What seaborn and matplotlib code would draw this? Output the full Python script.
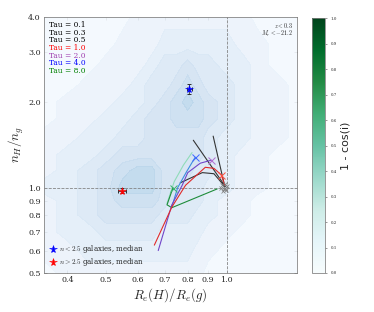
import numpy as np
import matplotlib
matplotlib.use("Agg")
import matplotlib.pyplot as plt
import matplotlib.ticker as mticker
import seaborn as sns

# background galaxy density (coarse grid)
grid_x = [0.35, 0.4, 0.45, 0.5, 0.55, 0.6, 0.65, 0.7, 0.75, 0.8, 0.85, 0.9, 1.0, 1.1, 1.2, 1.35, 1.5]
grid_y = [0.5, 0.6, 0.7, 0.8, 0.9, 1.0, 1.15, 1.3, 1.5, 1.75, 2.0, 2.3, 2.7, 3.2, 4.0]
density = [
    [0, 1, 1, 1, 1, 1, 1, 1, 1, 1, 1, 0, 0, 0, 0, 0, 0],
    [1, 1, 2, 2, 2, 2, 2, 2, 2, 2, 1, 1, 0, 0, 0, 0, 0],
    [1, 2, 2, 3, 3, 3, 3, 2, 2, 2, 2, 1, 1, 0, 0, 0, 0],
    [1, 2, 3, 4, 4, 4, 4, 3, 3, 3, 2, 2, 1, 1, 0, 0, 0],
    [1, 2, 3, 4, 5, 5, 5, 4, 3, 3, 3, 2, 1, 1, 0, 0, 0],
    [2, 2, 3, 4, 6, 6, 6, 4, 4, 3, 3, 2, 2, 1, 1, 0, 0],
    [1, 2, 3, 4, 5, 6, 6, 4, 4, 4, 3, 3, 2, 1, 1, 0, 0],
    [1, 2, 2, 3, 4, 4, 4, 4, 4, 4, 4, 3, 2, 1, 1, 0, 0],
    [1, 1, 2, 2, 3, 3, 4, 4, 4, 4, 4, 3, 2, 2, 1, 1, 0],
    [0, 1, 1, 2, 2, 3, 4, 4, 5, 5, 5, 4, 3, 2, 1, 1, 0],
    [0, 1, 1, 1, 2, 2, 3, 4, 5, 6, 5, 4, 3, 2, 1, 1, 0],
    [0, 0, 1, 1, 1, 2, 3, 3, 4, 5, 4, 3, 3, 2, 1, 1, 0],
    [0, 0, 0, 1, 1, 1, 2, 3, 3, 4, 3, 3, 2, 2, 1, 0, 0],
    [0, 0, 0, 0, 1, 1, 1, 2, 2, 2, 2, 2, 2, 1, 1, 0, 0],
    [0, 0, 0, 0, 0, 1, 1, 1, 1, 1, 1, 1, 1, 1, 0, 0, 0],
]

# model tracks
black1_x = [0.826, 0.993]
black1_y = [1.47, 1.01]
black2_x = [0.926, 0.99]
black2_y = [1.52, 1.01]
black3_x = [0.766, 0.87, 0.93, 0.99]
black3_y = [1.04, 1.13, 1.12, 1.01]
red_x = [0.66, 0.73, 0.79, 0.885, 0.93, 0.97, 0.99]
red_y = [0.627, 0.854, 1.02, 1.18, 1.17, 1.11, 1.02]
purple_x = [0.675, 0.73, 0.775, 0.80, 0.86, 0.916]
purple_y = [0.60, 0.87, 1.02, 1.13, 1.22, 1.25]
blue_x = [0.73, 0.755, 0.795, 0.835]
blue_y = [0.857, 1.0, 1.14, 1.28]
pale_x = [0.71, 0.74, 0.78, 0.82]
pale_y = [0.88, 1.05, 1.2, 1.33]
green_x = [0.735, 0.71, 0.73, 0.948]
green_y = [1.0, 0.87, 0.85, 0.99]

# end points of tracks
cross_x = [0.735, 0.835, 0.916, 0.97]
cross_y = [1.0, 1.28, 1.25, 1.11]
cross_colors = ["#3cb371", "#4169ff", "#b070d0", "#ff5040"]
cluster_x = [0.975, 0.985, 0.99, 0.995, 0.98, 1.0, 0.97, 0.99]
cluster_y = [1.02, 0.99, 1.0, 0.98, 0.97, 1.01, 1.0, 1.03]

# medians
med_x = [0.807, 0.548]
med_y = [2.23, 0.974]
med_xerr = [0.012, 0.012]
med_yerr = [0.09, 0.02]
med_colors = ["blue", "red"]
med_labels = [r"$n<2.5$ galaxies, median", r"$n>2.5$ galaxies, median"]

tau_labels = ["Tau = 0.1", "Tau = 0.3", "Tau = 0.5", "Tau = 1.0", "Tau = 2.0", "Tau = 4.0", "Tau = 8.0"]
tau_colors = ["black", "black", "black", "red", "#a040b0", "blue", "green"]

sns.set_style("ticks")
plt.rcParams["font.family"] = ["DejaVu Serif"]
plt.rcParams["mathtext.fontset"] = "cm"

fig = plt.figure(figsize=(374 / 72, 312 / 72), dpi=72)
ax = fig.add_axes([0.118, 0.125, 0.676, 0.8205])
cax = fig.add_axes([0.834, 0.125, 0.035, 0.817])

ax.set_xscale("log")
ax.set_yscale("log")

gx, gy = np.meshgrid(grid_x, grid_y)
ax.contourf(gx, gy, np.array(density), levels=np.arange(-0.5, 7.0, 1.0),
            cmap="Blues", vmin=-0.5, vmax=22, alpha=0.85)

ax.axhline(1.0, color="gray", ls="--", lw=0.8)
ax.axvline(1.0, color="gray", ls="--", lw=0.8)

tracks = [
    (pale_x, pale_y, "#8fdcb8"),
    (black1_x, black1_y, "#333333"),
    (black2_x, black2_y, "#333333"),
    (black3_x, black3_y, "#333333"),
    (green_x, green_y, "#1e8c3a"),
    (blue_x, blue_y, "#3c8ce0"),
    (purple_x, purple_y, "#7044c8"),
    (red_x, red_y, "#e02a2a"),
]
for tx, ty, c in tracks:
    sns.lineplot(x=tx, y=ty, sort=False, estimator=None, color=c, lw=1.1, ax=ax)

for cx, cy, c in zip(cross_x, cross_y, cross_colors):
    ax.plot(cx, cy, marker="x", color=c, ms=7, mew=1.0, ls="none")
ax.plot(cluster_x, cluster_y, marker="x", color="gray", ms=4, mew=0.7, ls="none")

for mx, my, xe, ye, c, lab in zip(med_x, med_y, med_xerr, med_yerr, med_colors, med_labels):
    ax.errorbar(mx, my, xerr=xe, yerr=ye, color="#333333", lw=0.8, capsize=2, ls="none")
    ax.plot(mx, my, marker="*", color=c, ms=8, mec=c, mew=0.5, ls="none", label=lab)

leg = ax.legend(loc="lower left", frameon=False, fontsize=7, handletextpad=0.2,
                borderaxespad=0.3, labelspacing=0.1, handlelength=1.2)

for i, (lab, c) in enumerate(zip(tau_labels, tau_colors)):
    ax.text(0.02, 0.985 - i * 0.03, lab, color=c, fontsize=7.5,
            transform=ax.transAxes, va="top", ha="left")

ax.text(0.985, 0.985, r"$z<0.3$", fontsize=6, transform=ax.transAxes, ha="right", va="top")
ax.text(0.985, 0.955, r"$M_r<-21.2$", fontsize=6, transform=ax.transAxes, ha="right", va="top")

ax.set_xlim(0.35, 1.5)
ax.set_ylim(0.5, 4.0)
xt = [0.4, 0.5, 0.6, 0.7, 0.8, 0.9, 1.0]
yt = [0.5, 0.6, 0.7, 0.8, 0.9, 1.0, 2.0, 3.0, 4.0]
ax.xaxis.set_major_locator(mticker.FixedLocator(xt))
ax.yaxis.set_major_locator(mticker.FixedLocator(yt))
ax.xaxis.set_major_formatter(mticker.FormatStrFormatter("%.1f"))
ax.yaxis.set_major_formatter(mticker.FormatStrFormatter("%.1f"))
ax.xaxis.set_minor_locator(mticker.NullLocator())
ax.yaxis.set_minor_locator(mticker.NullLocator())
ax.tick_params(labelsize=8, direction="in", top=True, right=True, length=3, color="gray")
for s in ax.spines.values():
    s.set_color("gray")
ax.set_xlabel(r"$R_e(H)/R_e(g)$", fontsize=13, labelpad=2)
ax.set_ylabel(r"$n_H/n_g$", fontsize=13, labelpad=2)

sm = matplotlib.cm.ScalarMappable(cmap="BuGn", norm=matplotlib.colors.Normalize(0, 1))
cb = fig.colorbar(sm, cax=cax)
cb.set_ticks(np.arange(0, 1.01, 0.1))
cb.ax.yaxis.set_major_formatter(mticker.FormatStrFormatter("%.1f"))
cb.ax.tick_params(labelsize=4, length=2, color="gray")
cb.outline.set_edgecolor("gray")
cb.set_label("1 - cos(i)", fontsize=11, family="DejaVu Sans")

fig.savefig("out.png", dpi=72)
